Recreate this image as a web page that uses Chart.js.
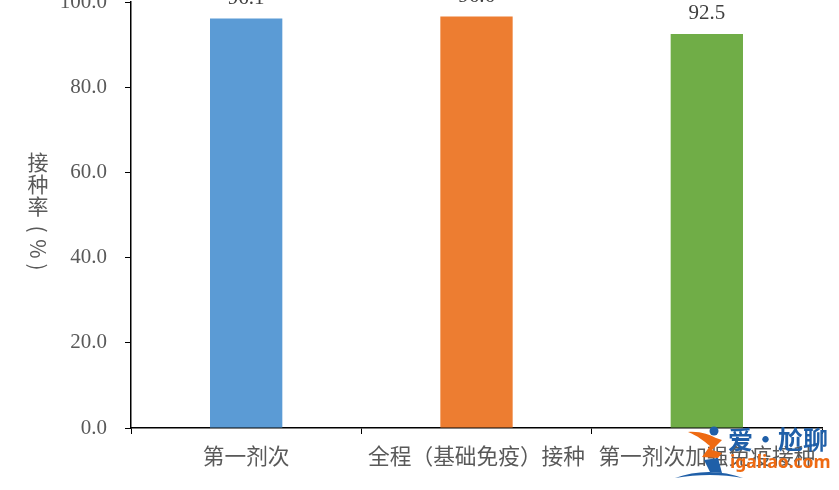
<!DOCTYPE html>
<html>
<head>
<meta charset="utf-8">
<style>
  html, body { margin: 0; padding: 0; background: #fff; overflow: hidden; }
  #wrap { position: relative; width: 839px; height: 490px; overflow: hidden; }
  #logo { position: absolute; left: 672px; top: 420px; }
  .wm { position: absolute; white-space: nowrap; font-weight: 700; }
  #wm-cn { left: 728px; top: 421px; font: 700 25px "Noto Sans CJK SC"; color: #1f5fa8; line-height: 34px; }
  #wm-en { left: 730px; top: 448px; font: 700 17.5px "Noto Sans"; color: #ee6a12; line-height: 26px; }
</style>
</head>
<body>
<div id="wrap">
  <canvas id="chart" width="839" height="490"></canvas>
  <svg id="logo" width="76" height="62" viewBox="0 0 76 62">
    <circle cx="42" cy="11" r="4.5" fill="#1f5fa8"/>
    <path d="M16 12 C28 11 38 15 44 18 L50 20 L40 30 L50 33 L46 38 L30 37 L38 26 C32 21 26 16 16 12 Z" fill="#ee6a12"/>
    <path d="M32 40 L46 38 L50 53 L38 52 Z" fill="#1f5fa8"/>
    <path d="M3 58 C24 50 50 50 71 58 C50 54 26 54 3 58 Z" fill="#1f5fa8"/>
  </svg>
  <div class="wm" id="wm-cn">爱·尬聊</div>
  <div class="wm" id="wm-en">igaliao.com</div>
</div>
<script src="https://cdn.jsdelivr.net/npm/chart.js@4"></script>
<script>
const categories = ['第一剂次', '全程（基础免疫）接种', '第一剂次加强免疫接种'];
const rates = [96.1, 96.6, 92.5];
const barColors = ['#5B9BD5', '#ED7D31', '#70AD47'];
const yTitleChars = ['接', '种', '率', '（', '%', '）'];

const fontFamily = '"Liberation Serif", "Noto Sans CJK SC", serif';

// value labels above the bars
const valueLabels = {
  id: 'valueLabels',
  afterDatasetsDraw(chart) {
    const ctx = chart.ctx;
    const bars = chart.getDatasetMeta(0).data;
    ctx.save();
    ctx.font = '21px ' + fontFamily;
    ctx.fillStyle = '#404040';
    ctx.textAlign = 'center';
    ctx.textBaseline = 'middle';
    bars.forEach((bar, i) => {
      ctx.fillText(rates[i].toFixed(1), bar.x, bar.y - 20);
    });
    ctx.restore();
  }
};

// y axis title is stacked top to bottom, brackets turned sideways
const stackedTitle = {
  id: 'stackedTitle',
  afterDraw(chart) {
    const ctx = chart.ctx;
    const offsets = [162, 184, 206, 229, 249, 267];
    ctx.save();
    ctx.font = '21px "Noto Sans CJK SC"';
    ctx.fillStyle = '#595959';
    ctx.textAlign = 'center';
    ctx.textBaseline = 'middle';
    yTitleChars.forEach((ch, i) => {
      ctx.save();
      ctx.translate(38, offsets[i]);
      if (i >= 3) ctx.rotate(Math.PI / 2);
      if (ch === '（') ctx.fillText('(', 0, 0);
      else if (ch === '）') ctx.fillText(')', 0, 0);
      else ctx.fillText(ch, 0, 0);
      ctx.restore();
    });
    ctx.restore();
  }
};

new Chart(document.getElementById('chart'), {
  type: 'bar',
  data: {
    labels: categories,
    datasets: [{
      data: rates,
      backgroundColor: barColors,
      barPercentage: 0.314,
      categoryPercentage: 1
    }]
  },
  options: {
    responsive: false,
    animation: false,
    layout: { autoPadding: false, padding: { top: 2, right: 17, left: 0, bottom: 0 } },
    plugins: { legend: { display: false }, tooltip: { enabled: false } },
    scales: {
      x: {
        afterFit(scale) { scale.height = 62; scale.paddingLeft = 0; scale.paddingRight = 0; },
        border: { color: '#000', width: 1.5 },
        grid: { offset: true, drawOnChartArea: false, color: '#000', tickColor: '#000', tickLength: 6, lineWidth: 1 },
        ticks: {
          autoSkip: false,
          maxRotation: 0,
          minRotation: 0,
          padding: 11,
          color: '#595959',
          font: { family: fontFamily, size: 21.7 }
        }
      },
      y: {
        min: 0,
        max: 100,
        // top tick has to sit at the canvas edge, its label gets cut like the original
        afterFit(scale) { scale.width = 131; scale.paddingTop = 0; scale.paddingBottom = 0; },
        border: { color: '#000', width: 1.5 },
        grid: { drawOnChartArea: false, color: '#000', tickColor: '#000', tickLength: 6, lineWidth: 1 },
        ticks: {
          stepSize: 20,
          padding: 18,
          color: '#595959',
          font: { family: fontFamily, size: 21 },
          callback: v => v.toFixed(1)
        }
      }
    }
  },
  plugins: [valueLabels, stackedTitle]
});
</script>
</body>
</html>
